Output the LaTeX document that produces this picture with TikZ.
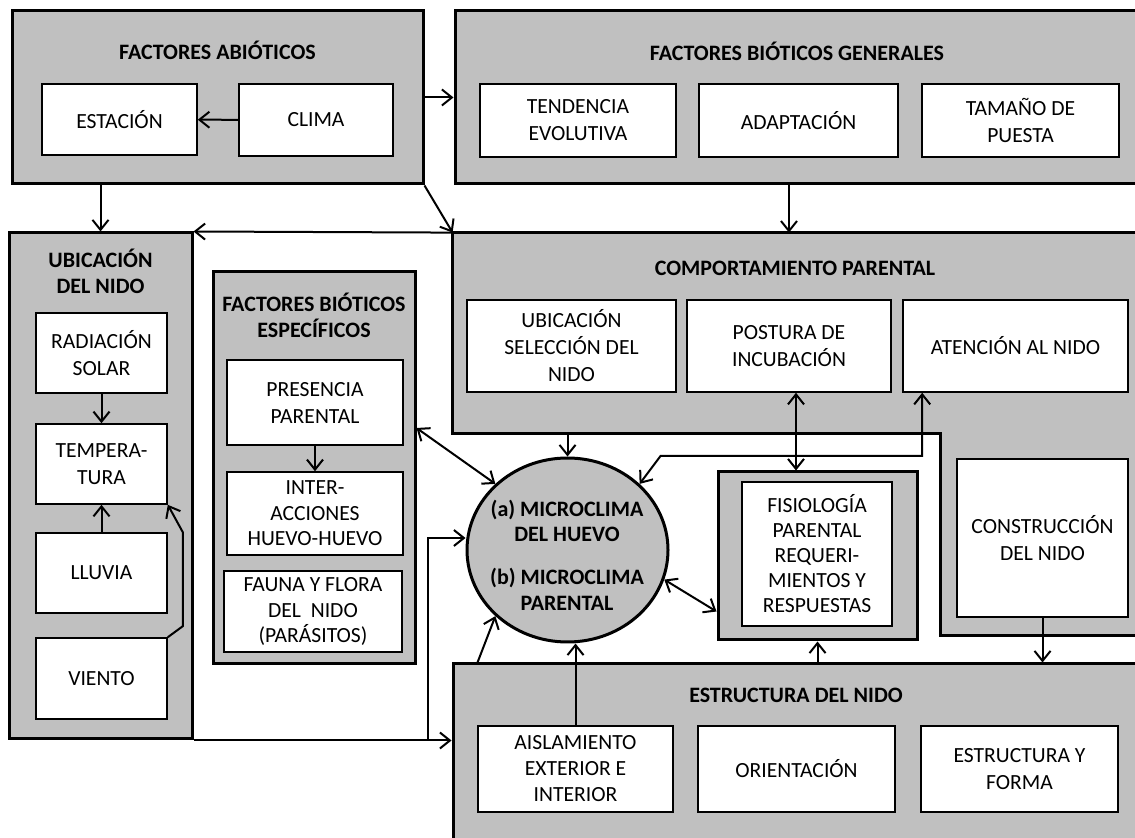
\documentclass[tikz,border=0pt]{standalone}
\usepackage{fontspec}
\setmainfont{Carlito}
\usetikzlibrary{arrows.meta, positioning, shapes.geometric}
\definecolor{panelgray}{RGB}{192, 192, 192}

\begin{document}
\begin{tikzpicture}[x=0.5pt, y=-0.5pt,
    every node/.style={font=\fontsize{10.8}{13.5}\selectfont},
    panel/.style={draw, line width=1.5pt, fill=panelgray, inner sep=0pt},
    item/.style={draw, line width=0.8pt, fill=white, align=center, inner sep=0pt},
    headline/.style={font=\fontsize{11}{13}\selectfont\bfseries, align=center},
    arr/.style={-{Straight Barb[length=5pt, width=8pt]}, line width=1pt},
    twoway/.style={{Straight Barb[length=5pt, width=8pt]}-{Straight Barb[length=5pt, width=8pt]}, line width=1pt}]
    \useasboundingbox (0,0) rectangle (1135,838);
    \clip (0,0) rectangle (1135,838);

    % factores abioticos
    \node[panel, minimum width=205.5pt, minimum height=86.5pt] (abio) at (217.5,97.5) {};
    \node[headline] (abiotitle) at (217.5,50) {FACTORES ABIÓTICOS};
    \node[item, minimum width=77.5pt, minimum height=35.5pt] (estacion) at (119.5,119.5) {ESTACIÓN};
    \node[item, minimum width=77pt, minimum height=36pt] (clima) at (316,120) {CLIMA};

    % factores bioticos generales
    \node[panel, minimum width=347.5pt, minimum height=86.5pt] (biogen) at (802.5,97.5) {};
    \node[headline] (biogentitle) at (797,51) {FACTORES BIÓTICOS GENERALES};
    \node[item, minimum width=98pt, minimum height=36.5pt] (tendencia) at (578,120.5) {TENDENCIA\\EVOLUTIVA};
    \node[item, minimum width=99.5pt, minimum height=36.5pt] (adaptacion) at (798.5,120.5) {ADAPTACIÓN};
    \node[item, minimum width=98.5pt, minimum height=36.5pt] (tamano) at (1020.5,120.5) {TAMAÑO DE\\PUESTA};

    % ubicacion del nido
    \node[panel, minimum width=91.5pt, minimum height=253pt] (ubic) at (100.5,486) {};
    \node[headline] (ubictitle) at (100.5,271) {UBICACIÓN\\DEL NIDO};
    \node[item, minimum width=65.5pt, minimum height=40pt] (radiacion) at (101.5,353) {RADIACIÓN\\SOLAR};
    \node[item, minimum width=65.5pt, minimum height=40pt] (temperatura) at (101.5,464) {TEMPERA-\\TURA};
    \node[item, minimum width=65.5pt, minimum height=40pt] (lluvia) at (101.5,573) {LLUVIA};
    \node[item, minimum width=65.5pt, minimum height=40.5pt] (viento) at (101.5,678.5) {VIENTO};

    % factores bioticos especificos
    \node[panel, minimum width=101pt, minimum height=196pt] (bioesp) at (314,468) {};
    \node[headline] (bioesptitle) at (314,315.5) {FACTORES BIÓTICOS\\ESPECÍFICOS};
    \node[item, minimum width=88pt, minimum height=42.5pt] (presencia) at (315,402.5) {PRESENCIA\\PARENTAL};
    \node[item, minimum width=88pt, minimum height=41.5pt, font=\fontsize{10.8}{12.8}\selectfont] (interacciones) at (315,513.5) {INTER-\\ACCIONES\\HUEVO-HUEVO};
    \node[item, minimum width=89pt, minimum height=40.5pt, font=\fontsize{10.8}{12.8}\selectfont] (fauna) at (313,611.5) {FAUNA Y FLORA\\DEL\ \ NIDO\\(PARÁSITOS)};

    % comportamiento parental
    \node[minimum width=348.5pt, minimum height=100pt, inner sep=0pt] (comp) at (801.5,333) {};
    \coordinate (compfoot) at (940,636);
    \draw[panel] (comp.north west) -- (comp.north east) -- (comp.north east |- compfoot)
        -- (compfoot) -- (compfoot |- comp.south) -- (comp.south west) -- cycle;
    \node[headline] (comptitle) at (795,268) {COMPORTAMIENTO PARENTAL};
    \node[item, minimum width=104.5pt, minimum height=46pt] (ubicsel) at (571.5,346) {UBICACIÓN\\SELECCIÓN DEL\\NIDO};
    \node[item, minimum width=102pt, minimum height=46pt] (postura) at (789,346) {POSTURA DE\\INCUBACIÓN};
    \node[item, minimum width=112.5pt, minimum height=46pt] (atencion) at (1015.5,346) {ATENCIÓN AL NIDO};
    \node[item, minimum width=85.5pt, minimum height=79pt] (construccion) at (1042.5,538) {CONSTRUCCIÓN\\DEL NIDO};

    % microclima
    \node[ellipse, draw, line width=1.5pt, fill=panelgray, minimum width=100.5pt, minimum height=92pt, inner sep=0pt] (micro) at (567.5,550) {};
    \node[font=\fontsize{11}{12.8}\selectfont\bfseries, align=center] (microtxt) at (567,555) {(a) MICROCLIMA\\DEL HUEVO\\[8.5pt](b) MICROCLIMA\\PARENTAL};

    % fisiologia parental
    \node[panel, minimum width=99.5pt, minimum height=84pt] (fisio) at (817.5,556) {};
    \node[item, minimum width=75pt, minimum height=72pt, font=\fontsize{10.8}{12.5}\selectfont] (fisioin) at (817,554) {FISIOLOGÍA\\PARENTAL\\REQUERI-\\MIENTOS Y\\RESPUESTAS};

    % estructura del nido
    \node[panel, minimum width=348.5pt, minimum height=98pt] (estr) at (801.5,762) {};
    \node[headline] (estrtitle) at (796,695) {ESTRUCTURA DEL NIDO};
    \node[item, minimum width=97.5pt, minimum height=43pt, font=\fontsize{10.8}{13}\selectfont] (aislamiento) at (575.5,769) {AISLAMIENTO\\EXTERIOR E\\INTERIOR};
    \node[item, minimum width=98.5pt, minimum height=43pt] (orientacion) at (796.5,769) {ORIENTACIÓN};
    \node[item, minimum width=98.5pt, minimum height=43pt] (estrforma) at (1019.5,769) {ESTRUCTURA Y\\FORMA};

    % conexiones
    \draw[arr] (clima) -- (estacion);
    \draw[arr] (abio.east) -- (abio.east -| biogen.west);
    \draw[arr] (abio.south -| ubic.north) -- (ubic.north);
    \draw[arr] (abio.south east) -- (comp.north west);
    \draw[arr] (comp.north west) -- (ubic.north east);
    \draw[arr] (biogen.south -| postura) -- (comp.north -| postura);
    \draw[arr] (radiacion) -- (temperatura);
    \draw[arr] (lluvia) -- (temperatura);
    \draw[arr] (viento.north east) -- ++(7.5pt,5.5pt) -- ++(0,47pt) -- (temperatura.south east);
    \draw[arr] (presencia) -- (interacciones);
    \draw[arr] (comp.south -| micro) -- (micro.north);
    \draw[twoway] ([yshift=20pt]bioesp.east) -- (micro.north west);
    \draw[twoway] ([xshift=3.5pt]postura.south) -- ([xshift=3.5pt]postura.south |- fisio.north);
    \draw[twoway] (micro.north east) -- ++(10.5pt,14pt) -| ([xshift=10pt]atencion.south west);
    \draw[twoway] (micro.-17) -- ([yshift=15pt]fisio.south west);
    \draw[arr] (construccion.south) -- (construccion.south |- estr.north);
    \draw[arr] (estr.north -| fisio) -- (fisio.south);
    \draw[arr] ([xshift=13pt]estr.north west) -- (micro.south west);
    \draw[arr] (aislamiento.north) -- (aislamiento.north |- micro.south);
    \draw[arr] (ubic.south east) -- (ubic.south east -| estr.west);
    \coordinate (split) at (428,739);
    \draw[arr] (split) |- ([yshift=6pt]micro.west);
\end{tikzpicture}
\end{document}
